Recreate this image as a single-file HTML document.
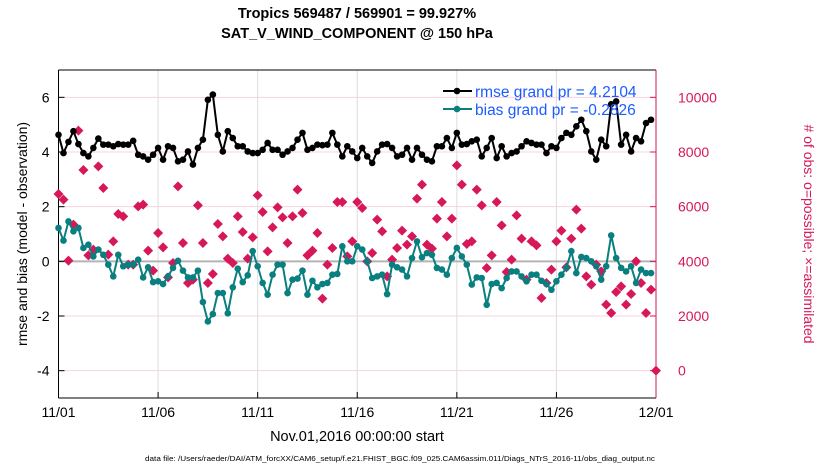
<!DOCTYPE html>
<html><head><meta charset="utf-8"><style>
body{margin:0;background:#fff;width:830px;height:470px;overflow:hidden}
svg{font-family:"Liberation Sans",sans-serif}
</style></head><body>
<svg id="chart" width="830" height="470" xmlns="http://www.w3.org/2000/svg">
<text x="357" y="18" font-size="14.5" font-weight="bold" text-anchor="middle">Tropics 569487 / 569901 = 99.927%</text>
<text x="357" y="38" font-size="14.5" font-weight="bold" text-anchor="middle">SAT_V_WIND_COMPONENT @ 150 hPa</text>
<g id="grid"></g><g id="axes"></g><g id="marks"></g>
<text transform="translate(27,234) rotate(-90)" font-size="14" text-anchor="middle">rmse and bias (model - observation)</text>
<text transform="translate(804,234) rotate(90)" font-size="14" fill="#d6175a" text-anchor="middle"># of obs: o=possible; ×=assimilated</text>
<text x="357" y="441" font-size="14.5" text-anchor="middle">Nov.01,2016 00:00:00 start</text>
<text x="145" y="461" font-size="7.5" textLength="510" lengthAdjust="spacingAndGlyphs">data file: /Users/raeder/DAI/ATM_forcXX/CAM6_setup/f.e21.FHIST_BGC.f09_025.CAM6assim.011/Diags_NTrS_2016-11/obs_diag_output.nc</text>
<g>
<line x1="443" y1="91" x2="472" y2="91" stroke="#000" stroke-width="2"/><circle cx="457" cy="91" r="3.3" fill="#000"/>
<text x="475" y="97" font-size="15.5" fill="#1a5cff">rmse grand pr = 4.2104</text>
<line x1="443" y1="109" x2="472" y2="109" stroke="#0a7f7f" stroke-width="2"/><circle cx="457" cy="109" r="3.3" fill="#0a7f7f"/>
<text x="475" y="115" font-size="15.5" fill="#1a5cff">bias grand pr = -0.2826</text>
</g>
</svg>
<script>
const xTickLabels=["11/01","11/06","11/11","11/16","11/21","11/26","12/01"];
const xTickDays=[0,5,10,15,20,25,30];
const yTicks=[-4,-2,0,2,4,6];
const y2Ticks=[0,2000,4000,6000,8000,10000];
const rmse=[4.63,3.96,4.37,4.76,4.29,3.96,3.84,4.15,4.49,4.27,4.27,4.21,4.29,4.27,4.27,4.41,3.90,3.84,3.72,3.90,4.15,3.72,4.21,4.15,3.66,3.72,4.02,3.54,4.15,4.45,5.91,6.10,4.63,4.02,4.76,4.51,4.21,4.21,4.02,3.96,3.96,4.08,4.33,4.08,4.08,3.90,4.02,4.15,4.45,4.70,4.08,4.15,4.27,4.25,4.27,4.70,4.27,3.84,4.21,4.02,
3.78,4.15,3.84,3.60,4.02,4.27,4.29,4.15,3.84,3.90,4.15,3.72,4.15,3.90,3.72,3.66,4.21,4.21,4.51,4.15,4.70,4.27,4.29,4.39,4.45,3.84,4.15,4.51,3.78,4.21,3.84,3.96,4.02,4.21,4.39,4.33,4.27,4.27,3.96,4.21,4.15,4.51,4.70,4.63,4.94,5.18,4.76,4.02,3.72,4.45,4.21,5.75,5.85,4.27,4.63,4.02,4.51,4.39,5.06,5.18];
const bias=[1.22,0.76,1.46,1.10,1.22,0.49,0.61,0.18,0.43,0.24,-0.12,-0.55,0.24,-0.18,-0.12,-0.12,0.06,-0.59,-0.22,-0.76,-0.73,-0.83,-0.55,-0.24,0.02,-0.34,-0.59,-0.59,-0.34,-1.49,-2.20,-1.93,-1.16,-1.16,-1.90,-0.95,-0.27,-0.76,-0.51,0.37,-0.18,-0.79,-1.22,-0.49,-0.12,-0.12,-1.16,-0.67,-0.63,-0.34,-1.22,-0.71,-0.95,-0.83,-0.79,-0.49,-0.46,0.55,0,0,
0.55,0.43,0,-0.61,-0.55,-0.49,-1.20,-0.12,-0.22,-0.30,-0.55,0.12,0.73,0.15,0.30,0.24,-0.24,-0.30,-0.49,0.12,0.49,0.18,-0.12,-0.85,-0.59,-0.61,-1.59,-0.83,-0.79,-0.98,-0.61,-0.37,-0.37,-0.55,-0.73,-0.49,-0.49,-0.71,-0.83,-1.04,-0.73,-0.49,-0.24,0.37,-0.43,0.16,0.12,0,-0.18,-0.67,-0.18,0.95,0.12,-0.24,-0.37,-0.18,-0.79,-0.30,-0.43,-0.43];
const obsCount=[6463,6256,4024,5341,8780,7341,4220,4427,7476,6683,4244,4732,5732,5646,3878,3878,6012,6073,4390,3659,5037,4512,3415,3939,6744,4671,3207,3329,6049,4671,3207,3537,5366,4915,4098,3939,5646,5073,4098,4878,6415,5805,4366,5244,5976,5610,4671,5646,6622,5768,4220,4390,5037,2634,3878,4488,6171,6171,4183,4732,
6171,5951,4000,4305,5524,5098,3451,4061,4488,5122,4610,4915,6293,6805,4610,4463,5561,6171,4915,5561,7512,6805,4634,4732,6622,6049,3756,4220,6171,5317,3610,4061,5683,4829,3329,4732,4585,2659,3207,3695,4732,5122,3780,4829,5890,5195,3451,3146,3878,3634,2415,2110,2878,3085,2415,2805,4000,3207,2110,2963,0];
const NS="http://www.w3.org/2000/svg";
const L=58.5,R=656,T=70,B=398,ymin=-5,ymax=7;
const xDay=d=>L+d/30*(R-L);
const xIdx=i=>xDay(i/4);
const yL=v=>B-(v-ymin)/(ymax-ymin)*(B-T);
const yR=c=>yL(c/1000-4);
function mk(tag,attrs,parent){const e=document.createElementNS(NS,tag);for(const k in attrs)e.setAttribute(k,attrs[k]);parent.appendChild(e);return e;}
const grid=document.getElementById('grid'),axes=document.getElementById('axes'),marks=document.getElementById('marks');
xTickDays.forEach((d,i)=>{
 const g=mk('line',{x1:xDay(d),x2:xDay(d),y1:T,y2:B,stroke:'#dcdcdc','stroke-width':1},grid);
 
 
 const t=mk('line',{x1:xDay(d),x2:xDay(d),y1:B,y2:B-6,stroke:'#000'},axes);
 
 
 const tx=mk('text',{x:xDay(d),y:B+19,'font-size':14,'text-anchor':'middle'},axes);
 tx.textContent=xTickLabels[i];
 
 
});
y2Ticks.forEach(c=>{
 const g=mk('line',{x1:L,x2:R,y1:yR(c),y2:yR(c),stroke:'#f6d3df','stroke-width':1},grid);
 
 
 const t=mk('line',{x1:R,x2:R-6,y1:yR(c),y2:yR(c),stroke:'#d6175a'},axes);
 
 
 const tx=mk('text',{x:R+22,y:yR(c)+5,'font-size':14,fill:'#d6175a'},axes);
 tx.textContent=String(c);
 
 
});
const z=mk('line',{x1:L,x2:R,y1:yL(0),y2:yL(0),stroke:'#b4b4b4','stroke-width':2},grid);


yTicks.forEach(v=>{
 const t=mk('line',{x1:L,x2:L+6,y1:yL(v),y2:yL(v),stroke:'#000'},axes);
 
 
 const tx=mk('text',{x:L-9,y:yL(v)+5,'font-size':14,'text-anchor':'end'},axes);
 tx.textContent=String(v);
 
 
});
const la=mk('line',{x1:L,x2:L,y1:T,y2:B,stroke:'#000'},axes);


const ba=mk('line',{x1:L,x2:R,y1:B,y2:B,stroke:'#000'},axes);


const ta=mk('line',{x1:L,x2:R,y1:T,y2:T,stroke:'#000'},axes);


const ra=mk('line',{x1:R,x2:R,y1:T,y2:B,stroke:'#d6175a'},axes);


obsCount.forEach((c,i)=>{
 const x=xIdx(i),y=yR(c),r=5;
 const p=mk('polygon',{points:`${x},${y-r} ${x+r},${y} ${x},${y+r} ${x-r},${y}`,fill:'#d6175a'},marks);
 
 
});
function series(vals,color,name){
 const pl=mk('polyline',{points:vals.map((v,i)=>xIdx(i)+','+yL(v)).join(' '),fill:'none',stroke:color,'stroke-width':2},marks);
 
 
 vals.forEach((v,i)=>{
  const c=mk('circle',{cx:xIdx(i),cy:yL(v),r:3.3,fill:color},marks);
  
  
 });
}
series(bias,'#0a7f7f','bias');
series(rmse,'#000','rmse');
</script>
</body></html>
